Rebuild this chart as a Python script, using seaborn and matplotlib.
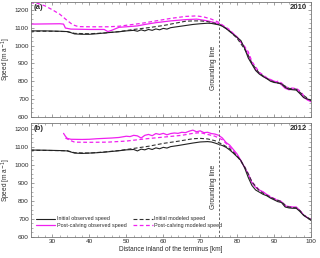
import matplotlib
matplotlib.use("Agg")
import matplotlib.pyplot as plt
from matplotlib.ticker import MultipleLocator, AutoMinorLocator
import seaborn as sns

# ---- panel (a) 2010 ----
a_km_obs_init = [24, 28, 32, 34, 35, 36, 38, 40, 42, 44, 46, 48, 50, 52, 53, 54, 55, 56, 57, 58, 59, 60,
                 61, 62, 64, 66, 68, 70, 72, 73, 74, 75, 76, 77, 78, 79, 80, 81, 82, 83, 84, 85, 86, 87,
                 88, 89, 90, 91, 92, 93, 94, 95, 96, 97, 98, 99, 100]
a_obs_init = [1082, 1082, 1080, 1078, 1072, 1065, 1063, 1063, 1066, 1070, 1074, 1077, 1082, 1085, 1080,
              1088, 1082, 1090, 1085, 1093, 1088, 1096, 1092, 1100, 1106, 1112, 1118, 1122, 1125, 1124,
              1120, 1116, 1108, 1095, 1078, 1062, 1045, 1028, 985, 930, 895, 860, 840, 826, 815, 800,
              793, 790, 785, 765, 755, 752, 750, 730, 708, 700, 694]

a_km_mod_init = [24, 30, 34, 36, 40, 44, 48, 52, 56, 58, 60, 62, 64, 66, 68, 70, 72, 74, 75, 76, 78, 80,
                 82, 83, 84, 86, 88, 90, 92, 94, 96, 98, 100]
a_mod_init = [1080, 1080, 1078, 1068, 1066, 1070, 1078, 1090, 1100, 1106, 1112, 1120, 1128, 1136, 1138,
              1138, 1134, 1124, 1118, 1110, 1080, 1040, 980, 945, 900, 845, 815, 795, 785, 760, 755,
              720, 690]

a_km_obs_post = [24, 32, 33, 33.5, 35, 40, 44, 45, 46, 48, 50, 53, 55, 58, 62, 66, 69, 70, 72, 74, 75, 76,
                 78, 80, 82, 83, 84, 85, 86, 87, 88, 89, 90, 91, 92, 93, 94, 95, 96, 97, 98, 99, 100]
a_obs_post = [1120, 1122, 1120, 1098, 1092, 1090, 1090, 1078, 1085, 1102, 1105, 1110, 1118, 1128, 1138,
              1145, 1148, 1145, 1138, 1128, 1122, 1112, 1082, 1048, 990, 945, 900, 865, 845, 828, 815,
              810, 800, 795, 780, 760, 752, 755, 755, 735, 710, 695, 685]

a_km_mod_post = [24, 26, 28, 30, 32, 34, 35.5, 37, 40, 45, 48, 51, 54, 58, 62, 66, 69, 71, 73, 75, 76, 78,
                 80, 81, 82, 83, 84, 86, 88, 89, 90, 91, 92, 93, 94, 96, 97, 98, 99, 100]
a_mod_post = [1240, 1236, 1222, 1200, 1175, 1140, 1116, 1106, 1105, 1105, 1108, 1116, 1124, 1138, 1152,
              1163, 1166, 1160, 1148, 1130, 1115, 1088, 1045, 1020, 995, 965, 910, 850, 820, 805, 790,
              800, 790, 770, 762, 760, 745, 720, 700, 685]

# ---- panel (b) 2012 ----
b_km_obs_init = [24, 28, 32, 34, 35, 36, 38, 40, 42, 44, 46, 48, 50, 52, 53, 54, 55, 56, 57, 58, 59, 60,
                 61, 62, 64, 66, 68, 70, 72, 73, 74, 75, 76, 77, 78, 79, 80, 81, 82, 83, 84, 85, 86, 87,
                 88, 89, 90, 91, 92, 93, 94, 95, 96, 97, 98, 99, 100]
b_obs_init = [1083, 1082, 1080, 1078, 1072, 1066, 1064, 1066, 1068, 1071, 1075, 1079, 1084, 1086, 1078,
              1088, 1084, 1092, 1086, 1095, 1090, 1098, 1094, 1102, 1108, 1115, 1122, 1128, 1130, 1128,
              1122, 1115, 1108, 1098, 1083, 1065, 1045, 1025, 985, 930, 885, 860, 848, 836, 828, 815,
              805, 795, 790, 765, 760, 758, 758, 740, 718, 705, 690]

b_km_mod_init = [24, 34, 36, 40, 44, 48, 52, 56, 60, 64, 68, 70, 72, 74, 75, 76, 78, 80, 82, 83, 84, 86,
                 88, 90, 92, 93, 94, 96, 97, 98, 100]
b_mod_init = [1082, 1079, 1068, 1066, 1072, 1080, 1092, 1104, 1120, 1132, 1146, 1148, 1145, 1135, 1125,
              1115, 1090, 1050, 990, 950, 905, 855, 830, 810, 795, 775, 765, 760, 745, 720, 695]

b_km_obs_post = [33, 33.5, 34, 35, 38, 40, 42, 44, 46, 48, 50, 51, 52, 53, 54, 55, 56, 57, 58, 59, 60, 61,
                 62, 63, 64, 65, 66, 67, 68, 69, 70, 71, 72, 73, 74, 75, 76, 77, 78, 79, 80, 81, 82, 83,
                 84, 85, 86, 87, 88, 89, 90, 91, 92, 93, 94, 95, 96, 97, 98, 99, 100]
b_obs_post = [1176, 1160, 1148, 1143, 1142, 1143, 1146, 1148, 1150, 1153, 1160, 1158, 1165, 1162, 1150,
              1165, 1170, 1163, 1175, 1170, 1176, 1168, 1175, 1178, 1176, 1182, 1180, 1188, 1194, 1185,
              1190, 1180, 1182, 1175, 1172, 1165, 1150, 1125, 1110, 1085, 1060, 1025, 985, 950, 900,
              875, 860, 850, 835, 820, 812, 800, 795, 770, 768, 765, 765, 745, 720, 705, 695]

b_km_mod_post = [33.5, 35, 36, 40, 45, 50, 55, 60, 65, 68, 70, 72, 74, 75, 76, 78, 80, 82, 83, 84, 86, 88,
                 90, 92, 93, 94, 96, 97, 98, 100]
b_mod_post = [1150, 1135, 1127, 1126, 1127, 1133, 1145, 1155, 1165, 1176, 1180, 1170, 1160, 1150, 1140,
              1100, 1055, 990, 950, 905, 860, 835, 812, 795, 775, 765, 760, 745, 720, 695]

years = ["2010", "2012"]
panel_tags = ["(a)", "(b)"]
grounding_km = 75

MAG = "#f020f0"
TXT = "#2a2a2a"

sns.set_style("ticks")
plt.rcParams["font.family"] = ["Liberation Sans", "DejaVu Sans"]
plt.rcParams["axes.edgecolor"] = "#777777"
plt.rcParams["axes.linewidth"] = 0.6

fig = plt.figure(figsize=(3.2, 2.58), dpi=100)
ax_a = fig.add_axes([0.097, 0.547, 0.875, 0.446])
ax_b = fig.add_axes([0.097, 0.083, 0.875, 0.439])

panels = [
    (ax_a, (a_km_obs_init, a_obs_init), (a_km_mod_init, a_mod_init),
     (a_km_obs_post, a_obs_post), (a_km_mod_post, a_mod_post)),
    (ax_b, (b_km_obs_init, b_obs_init), (b_km_mod_init, b_mod_init),
     (b_km_obs_post, b_obs_post), (b_km_mod_post, b_mod_post)),
]

for i, (ax, oi, mi, op, mp) in enumerate(panels):
    sns.lineplot(x=op[0], y=op[1], ax=ax, color=MAG, lw=0.9, estimator=None,
                 label="Post-calving observed speed")
    sns.lineplot(x=mp[0], y=mp[1], ax=ax, color=MAG, lw=0.9, estimator=None,
                 dashes=False, label="Post-calving modeled speed")
    ax.lines[-1].set_dashes((3, 2))
    sns.lineplot(x=mi[0], y=mi[1], ax=ax, color="#333333", lw=0.8, estimator=None,
                 label="Initial modeled speed")
    ax.lines[-1].set_dashes((3.5, 2))
    sns.lineplot(x=oi[0], y=oi[1], ax=ax, color="#222222", lw=0.8, estimator=None,
                 label="Initial observed speed")

    ax.axvline(grounding_km, color="#666666", lw=0.7, dashes=(2.5, 2))
    ax.text(grounding_km - 0.4, 875, "Grounding line", rotation=90, ha="right", va="center",
            fontsize=4.9, color=TXT)
    ax.text(0.01, 0.985, panel_tags[i], transform=ax.transAxes, ha="left", va="top",
            fontsize=5.6, fontweight="bold", color=TXT)
    ax.text(0.985, 0.985, years[i], transform=ax.transAxes, ha="right", va="top",
            fontsize=5.6, fontweight="bold", color=TXT)

    ax.set_xlim(24.2, 100)
    ax.set_ylim(600, 1245 if i == 0 else 1232)
    ax.xaxis.set_major_locator(MultipleLocator(10))
    ax.xaxis.set_minor_locator(MultipleLocator(2))
    ax.yaxis.set_major_locator(MultipleLocator(100))
    ax.yaxis.set_minor_locator(AutoMinorLocator(4))
    ax.tick_params(which="both", direction="in", top=True, right=True, colors="#777777",
                   labelcolor=TXT, labelsize=4.6, pad=1.5)
    ax.tick_params(which="major", length=2.2, width=0.5)
    ax.tick_params(which="minor", length=1.2, width=0.4)
    ax.set_ylabel("Speed [m a$^{-1}$]", fontsize=4.7, color=TXT)
    ax.yaxis.set_label_coords(-0.064, 0.5)
    ax.legend_.remove()

ax_a.tick_params(labelbottom=False)
ax_a.set_xlabel("")
ax_b.set_xlabel("Distance inland of the terminus [km]", fontsize=4.7, color=TXT, labelpad=1.5)

h, l = ax_b.get_legend_handles_labels()
order = [3, 0, 2, 1]
ax_b.legend([h[k] for k in order], [l[k] for k in order], ncol=2, loc="lower left",
            bbox_to_anchor=(0.0, 0.03), frameon=False, fontsize=3.9, handlelength=3.6,
            handletextpad=0.3, columnspacing=1.2, labelspacing=0.35, labelcolor=TXT)

fig.savefig("out.png", dpi=100)
